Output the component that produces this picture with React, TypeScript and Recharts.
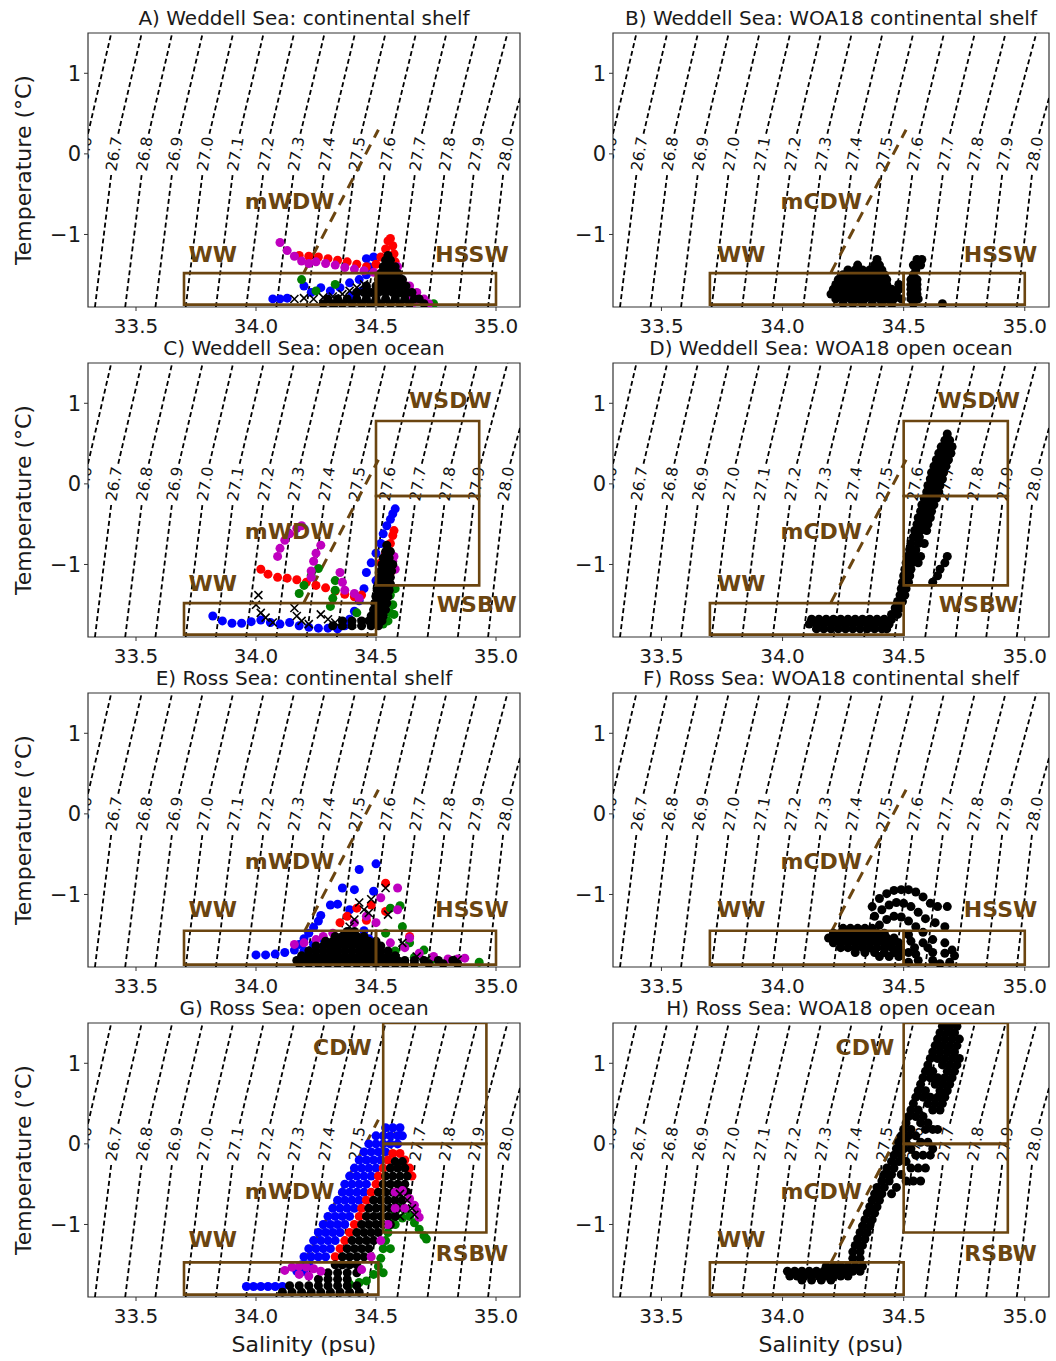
import React from "react";
import { ScatterChart, Scatter, XAxis, YAxis, ReferenceArea } from "recharts";

type Pt = { s: number; t: number; label?: string };
type Rows = [number, number[]][];

// axis ticks
const sTicks = [33.5, 34.0, 34.5, 35.0];
const tTicks = [-1, 0, 1];

// isopycnals: salinity where each contour crosses T = -1.9, -0.25, 0.25, 1.5 and the label (T = 0)
const sigmaLabels = ["26.6", "26.7", "26.8", "26.9", "27.0", "27.1", "27.2", "27.3", "27.4", "27.5", "27.6", "27.7", "27.8", "27.9", "28.0"];
const isoBottom = [33.203, 33.329, 33.455, 33.581, 33.707, 33.833, 33.959, 34.085, 34.211, 34.337, 34.463, 34.589, 34.715, 34.841, 34.967];
const isoBelowLabel = [33.271, 33.397, 33.524, 33.65, 33.777, 33.903, 34.03, 34.156, 34.283, 34.409, 34.536, 34.662, 34.785, 34.907, 35.03];
const isoAboveLabel = [33.3, 33.426, 33.553, 33.679, 33.806, 33.932, 34.059, 34.185, 34.312, 34.438, 34.565, 34.691, 34.814, 34.936, 35.059];
const isoTop = [33.397, 33.524, 33.651, 33.778, 33.905, 34.032, 34.159, 34.286, 34.413, 34.54, 34.667, 34.794, 34.921, 35.048, 35.175];
const isoLabelS = [33.284, 33.41, 33.537, 33.663, 33.79, 33.916, 34.043, 34.169, 34.296, 34.422, 34.549, 34.675, 34.798, 34.92, 35.043];
const isoTemps = [-1.9, -0.25, 0.25, 1.5];

// mixing line (brown dashed)
const mixLine: [number, number][] = [[34.2, -1.47], [34.51, 0.3]];

// water mass boxes: [s1, s2, t1, t2]
const boxesWeddellShelf = [[33.7, 34.5, -1.87, -1.48], [34.5, 35.0, -1.87, -1.48]];
const boxesWeddellOpen = [[33.7, 34.5, -1.87, -1.48], [34.5, 34.93, -0.15, 0.78], [34.5, 34.93, -1.26, -0.15]];
const boxesRossShelf = [[33.7, 34.5, -1.87, -1.45], [34.5, 35.0, -1.87, -1.45]];
const boxesRossOpenG = [[33.7, 34.51, -1.87, -1.47], [34.53, 34.96, 0, 1.5], [34.53, 34.96, -1.1, 0]];
const boxesRossOpenH = [[33.7, 34.5, -1.87, -1.47], [34.5, 34.93, 0, 1.5], [34.5, 34.93, -1.1, 0]];

// panel A: Weddell continental shelf
const aBlue: [number, number][] = [[34.07, -1.8], [34.1, -1.8], [34.13, -1.79], [34.2, -1.64], [34.23, -1.72], [34.27, -1.66], [34.31, -1.7], [34.35, -1.66], [34.39, -1.6], [34.43, -1.56], [34.46, -1.5], [34.46, -1.3], [34.49, -1.28], [34.47, -1.4], [34.4, -1.76], [34.44, -1.7]];
const aRed: [number, number][] = [[34.18, -1.26], [34.22, -1.27], [34.26, -1.28], [34.3, -1.3], [34.34, -1.32], [34.38, -1.34], [34.42, -1.37], [34.46, -1.4], [34.5, -1.37], [34.52, -1.28], [34.54, -1.18], [34.55, -1.08], [34.56, -1.05], [34.57, -1.14], [34.575, -1.24], [34.58, -1.34], [34.58, -1.44]];
const aGreen: [number, number][] = [[34.19, -1.56], [34.25, -1.7], [34.33, -1.62], [34.6, -1.72], [34.66, -1.78], [34.7, -1.83], [34.74, -1.86]];
const aMagenta: [number, number][] = [[34.1, -1.1], [34.13, -1.2], [34.16, -1.27], [34.19, -1.33], [34.22, -1.36], [34.25, -1.34], [34.29, -1.36], [34.33, -1.38], [34.37, -1.41], [34.41, -1.43], [34.45, -1.45], [34.49, -1.47], [34.58, -1.5], [34.61, -1.57], [34.64, -1.64], [34.67, -1.72], [34.7, -1.8], [34.72, -1.86], [34.6, -1.66], [34.63, -1.76], [34.66, -1.84], [34.59, -1.4]];
const aBlack: Rows = [
  [-1.26, [34.55]], [-1.32, [34.54, 34.56]], [-1.4, [34.53, 34.555, 34.58]], [-1.48, [34.52, 34.545, 34.57, 34.59]],
  [-1.56, [34.51, 34.535, 34.56, 34.585, 34.61]], [-1.64, [34.46, 34.5, 34.525, 34.55, 34.575, 34.6, 34.625]],
  [-1.72, [34.42, 34.45, 34.48, 34.51, 34.54, 34.57, 34.6, 34.63, 34.65]],
  [-1.8, [34.3, 34.34, 34.38, 34.42, 34.46, 34.5, 34.54, 34.58, 34.62, 34.66, 34.68]],
  [-1.86, [34.28, 34.32, 34.36, 34.4, 34.44, 34.48, 34.52, 34.56, 34.6, 34.64, 34.7]],
];
const aCross: [number, number][] = [[34.16, -1.8], [34.2, -1.79], [34.24, -1.8], [34.28, -1.78], [34.32, -1.77], [34.36, -1.74], [34.39, -1.7], [34.42, -1.66], [34.45, -1.62]];

// panel B: WOA18 Weddell shelf
const bBlack: Rows = [
  [-1.31, [34.39, 34.555, 34.575]], [-1.38, [34.31, 34.38, 34.4, 34.54, 34.57]],
  [-1.44, [34.27, 34.3, 34.33, 34.36, 34.39, 34.41, 34.55]],
  [-1.5, [34.25, 34.28, 34.31, 34.34, 34.37, 34.4, 34.42, 34.54]],
  [-1.56, [34.23, 34.26, 34.29, 34.32, 34.35, 34.38, 34.41, 34.43, 34.53, 34.555]],
  [-1.62, [34.22, 34.25, 34.28, 34.31, 34.34, 34.37, 34.4, 34.43, 34.48, 34.53, 34.555]],
  [-1.68, [34.21, 34.24, 34.27, 34.3, 34.33, 34.36, 34.39, 34.42, 34.45, 34.48, 34.53, 34.555]],
  [-1.74, [34.2, 34.23, 34.26, 34.29, 34.32, 34.35, 34.38, 34.41, 34.44, 34.47, 34.53, 34.555]],
  [-1.8, [34.22, 34.25, 34.28, 34.31, 34.34, 34.37, 34.4, 34.43, 34.46, 34.49, 34.53, 34.56]],
  [-1.86, [34.25, 34.29, 34.33, 34.37, 34.41, 34.45, 34.54, 34.66]],
];

// panel C: Weddell open ocean
const cBlue: [number, number][] = [[33.82, -1.64], [33.86, -1.7], [33.9, -1.73], [33.94, -1.73], [33.98, -1.71], [34.02, -1.69], [34.06, -1.72], [34.1, -1.74], [34.14, -1.72], [34.18, -1.76], [34.22, -1.78], [34.26, -1.79], [34.3, -1.79], [34.34, -1.8], [34.37, -1.76], [34.39, -1.68], [34.41, -1.58], [34.43, -1.45], [34.45, -1.3], [34.46, -1.1], [34.48, -0.98], [34.5, -0.86], [34.52, -0.74], [34.53, -0.62], [34.545, -0.52], [34.56, -0.44], [34.57, -0.37], [34.58, -0.31], [34.5, -1.2], [34.51, -1.4], [34.52, -1.55]];
const cRed: [number, number][] = [[34.02, -1.06], [34.05, -1.12], [34.09, -1.16], [34.13, -1.17], [34.17, -1.19], [34.21, -1.22], [34.25, -1.26], [34.29, -1.29], [34.33, -1.33], [34.37, -1.37], [34.41, -1.4], [34.44, -1.38], [34.52, -0.98], [34.54, -0.86], [34.56, -0.74], [34.57, -0.64], [34.575, -0.58], [34.56, -1.1], [34.55, -1.25]];
const cGreen: [number, number][] = [[34.18, -1.36], [34.2, -1.26], [34.23, -1.14], [34.26, -1.05], [34.33, -1.2], [34.33, -1.32], [34.32, -1.42], [34.31, -1.52], [34.42, -1.6], [34.53, -1.48], [34.56, -1.38], [34.57, -1.5], [34.575, -1.62], [34.55, -1.7], [34.53, -1.74], [34.58, -1.3], [34.56, -1.6]];
const cMagenta: [number, number][] = [[34.09, -0.9], [34.1, -0.8], [34.12, -0.7], [34.14, -0.62], [34.17, -0.55], [34.19, -0.52], [34.27, -0.76], [34.25, -0.86], [34.24, -0.96], [34.23, -1.08], [34.23, -1.16], [34.35, -1.1], [34.36, -1.22], [34.37, -1.32], [34.41, -1.36], [34.43, -1.42], [34.57, -0.96], [34.58, -1.06], [34.575, -0.9]];
const cBlack: Rows = [
  [-0.76, [34.545]], [-0.84, [34.54, 34.56]], [-0.92, [34.53, 34.555]], [-1.0, [34.525, 34.55, 34.57]],
  [-1.08, [34.52, 34.545, 34.565]], [-1.16, [34.515, 34.54, 34.56]], [-1.24, [34.51, 34.535, 34.56]],
  [-1.32, [34.505, 34.53, 34.555]], [-1.4, [34.5, 34.525, 34.55]], [-1.48, [34.495, 34.52, 34.545]],
  [-1.56, [34.49, 34.515, 34.54]], [-1.64, [34.48, 34.505, 34.53]],
  [-1.7, [34.36, 34.4, 34.44, 34.47, 34.5, 34.525]], [-1.76, [34.32, 34.36, 34.4, 34.44, 34.48, 34.51]],
];
const cCross: [number, number][] = [[34.01, -1.38], [34.0, -1.5], [34.02, -1.6], [34.04, -1.66], [34.07, -1.72], [34.16, -1.54], [34.17, -1.64], [34.19, -1.7], [34.22, -1.74], [34.27, -1.62], [34.3, -1.68], [34.33, -1.72], [34.36, -1.74], [34.4, -1.74], [34.44, -1.72]];

// panel D: WOA18 Weddell open ocean
const dBlack: Rows = [
  [0.62, [34.68]], [0.54, [34.67, 34.69]], [0.46, [34.655, 34.68, 34.7]], [0.38, [34.645, 34.67, 34.695]],
  [0.3, [34.635, 34.66, 34.685]], [0.22, [34.625, 34.65, 34.675]], [0.14, [34.615, 34.64, 34.665]],
  [0.06, [34.61, 34.635, 34.66]], [-0.02, [34.6, 34.625, 34.65]], [-0.1, [34.595, 34.62, 34.645]],
  [-0.18, [34.585, 34.61, 34.635]], [-0.26, [34.575, 34.6, 34.625]], [-0.34, [34.57, 34.595, 34.615]],
  [-0.42, [34.56, 34.585, 34.61]], [-0.5, [34.555, 34.58, 34.6]], [-0.58, [34.545, 34.57, 34.595]],
  [-0.66, [34.54, 34.565]], [-0.74, [34.53, 34.56, 34.585]], [-0.82, [34.525, 34.55]],
  [-0.9, [34.515, 34.54, 34.57, 34.68]], [-0.98, [34.51, 34.535, 34.56, 34.67]], [-1.06, [34.505, 34.53, 34.65]],
  [-1.14, [34.5, 34.525, 34.64]], [-1.22, [34.495, 34.52, 34.62]], [-1.3, [34.49, 34.51]],
  [-1.38, [34.485, 34.505]], [-1.46, [34.475, 34.495]], [-1.54, [34.465, 34.485]], [-1.62, [34.45, 34.475]],
  [-1.68, [34.12, 34.15, 34.18, 34.21, 34.24, 34.27, 34.3, 34.33, 34.36, 34.39, 34.42, 34.45]],
  [-1.74, [34.11, 34.14, 34.17, 34.2, 34.23, 34.26, 34.29, 34.32, 34.35, 34.38, 34.41, 34.44]],
  [-1.8, [34.14, 34.17, 34.2, 34.23, 34.26, 34.29, 34.32, 34.35, 34.38, 34.41, 34.43]],
];

// panel E: Ross continental shelf
const eBlue: [number, number][] = [[34.0, -1.75], [34.04, -1.75], [34.08, -1.74], [34.12, -1.72], [34.16, -1.69], [34.18, -1.62], [34.2, -1.55], [34.22, -1.48], [34.24, -1.41], [34.26, -1.33], [34.27, -1.26], [34.31, -1.13], [34.34, -1.12], [34.36, -0.92], [34.41, -0.94], [34.43, -0.69], [34.5, -0.62], [34.39, -1.19], [34.49, -0.96], [34.2, -1.7], [34.24, -1.62], [34.28, -1.55], [34.22, -1.76], [34.45, -1.45], [34.47, -1.55]];
const eRed: [number, number][] = [[34.38, -1.27], [34.42, -1.17], [34.54, -0.86], [34.54, -1.21], [34.48, -1.13], [34.64, -1.52], [34.35, -1.35], [34.46, -1.32]];
const eGreen: [number, number][] = [[34.56, -1.17], [34.6, -1.14], [34.61, -1.4], [34.54, -1.48], [34.64, -1.6], [34.7, -1.69], [34.73, -1.81], [34.93, -1.84], [34.58, -1.7], [34.66, -1.78]];
const eMagenta: [number, number][] = [[34.16, -1.62], [34.2, -1.6], [34.25, -1.56], [34.32, -1.48], [34.41, -1.35], [34.52, -1.04], [34.59, -0.92], [34.59, -1.19], [34.5, -1.35], [34.64, -1.54], [34.68, -1.73], [34.74, -1.77], [34.8, -1.8], [34.84, -1.8], [34.87, -1.79], [34.46, -1.27], [34.44, -1.62], [34.56, -1.6], [34.62, -1.66], [34.28, -1.52]];
const eBlack: Rows = [
  [-1.46, [34.38, 34.41]], [-1.52, [34.33, 34.36, 34.39, 34.42, 34.45]],
  [-1.58, [34.29, 34.32, 34.35, 34.38, 34.41, 34.44, 34.47, 34.5]],
  [-1.64, [34.25, 34.28, 34.31, 34.34, 34.37, 34.4, 34.43, 34.46, 34.49, 34.52]],
  [-1.7, [34.22, 34.25, 34.28, 34.31, 34.34, 34.37, 34.4, 34.43, 34.46, 34.49, 34.52, 34.55]],
  [-1.76, [34.19, 34.22, 34.25, 34.28, 34.31, 34.34, 34.37, 34.4, 34.43, 34.46, 34.49, 34.52, 34.55, 34.58]],
  [-1.82, [34.17, 34.2, 34.23, 34.26, 34.29, 34.32, 34.35, 34.38, 34.41, 34.44, 34.47, 34.5, 34.53, 34.56, 34.59, 34.62, 34.66, 34.7, 34.76, 34.82]],
  [-1.86, [34.18, 34.22, 34.26, 34.3, 34.34, 34.38, 34.42, 34.46, 34.5, 34.54, 34.58, 34.62, 34.66, 34.72, 34.78, 34.84]],
];
const eCross: [number, number][] = [[34.54, -0.92], [34.48, -1.06], [34.45, -1.19], [34.41, -1.31], [34.47, -1.23], [34.55, -1.25], [34.61, -1.6], [34.67, -1.77], [34.71, -1.81], [34.84, -1.81], [34.43, -1.1], [34.39, -1.4]];

// panel F: WOA18 Ross shelf
const fBlob: Rows = [
  [-1.42, [34.25, 34.28, 34.31, 34.34, 34.37]], [-1.48, [34.21, 34.24, 34.27, 34.3, 34.33, 34.36, 34.39, 34.42]],
  [-1.54, [34.19, 34.22, 34.25, 34.28, 34.31, 34.34, 34.37, 34.4, 34.43, 34.46]],
  [-1.6, [34.21, 34.24, 34.27, 34.3, 34.33, 34.36, 34.39, 34.42, 34.45, 34.48]],
  [-1.66, [34.24, 34.27, 34.3, 34.33, 34.36, 34.39, 34.42, 34.45, 34.48]],
  [-1.72, [34.3, 34.34, 34.38, 34.42, 34.46, 34.49]], [-1.77, [34.4, 34.44, 34.48]],
];
const fArcs: [number, number][] = [
  [34.37, -1.15], [34.4, -1.05], [34.43, -0.99], [34.46, -0.95], [34.49, -0.94], [34.52, -0.94], [34.55, -0.97], [34.58, -1.03], [34.61, -1.11], [34.64, -1.15], [34.68, -1.15],
  [34.38, -1.27], [34.41, -1.19], [34.44, -1.13], [34.47, -1.1], [34.5, -1.11], [34.53, -1.15], [34.56, -1.22], [34.59, -1.3], [34.63, -1.35], [34.67, -1.4],
  [34.4, -1.38], [34.43, -1.31], [34.46, -1.27], [34.49, -1.28], [34.52, -1.33], [34.55, -1.4], [34.58, -1.47], [34.62, -1.56], [34.67, -1.6],
  [34.52, -1.5], [34.53, -1.58], [34.545, -1.66], [34.55, -1.74], [34.56, -1.82], [34.6, -1.66], [34.62, -1.72], [34.62, -1.82], [34.67, -1.73], [34.7, -1.69], [34.71, -1.76], [34.69, -1.84], [34.52, -1.72], [34.52, -1.84], [34.58, -1.6], [34.65, -1.86],
];

// panel G: Ross open ocean
const gBlue: Rows = [
  [-1.77, [33.96, 33.99, 34.02, 34.05, 34.08, 34.11]], [-1.58, [34.17, 34.2]], [-1.5, [34.19, 34.22]],
  [-1.4, [34.2, 34.23, 34.26, 34.29]], [-1.3, [34.22, 34.25, 34.28, 34.31]], [-1.2, [34.24, 34.27, 34.3, 34.33]],
  [-1.1, [34.26, 34.29, 34.32, 34.35]], [-1.0, [34.28, 34.31, 34.34, 34.37]], [-0.9, [34.3, 34.33, 34.36, 34.39]],
  [-0.8, [34.32, 34.35, 34.38, 34.41]], [-0.7, [34.34, 34.37, 34.4, 34.43]], [-0.6, [34.36, 34.39, 34.42, 34.45]],
  [-0.5, [34.37, 34.4, 34.43, 34.46]], [-0.4, [34.39, 34.42, 34.45, 34.48]], [-0.3, [34.41, 34.44, 34.47, 34.5]],
  [-0.2, [34.43, 34.46, 34.49, 34.52]], [-0.1, [34.45, 34.48, 34.51, 34.54]], [0.0, [34.47, 34.5, 34.53, 34.56, 34.59]],
  [0.1, [34.5, 34.53, 34.56, 34.59, 34.61]], [0.2, [34.54, 34.57, 34.6]],
];
const gRed: [number, number][] = [[34.33, -1.4], [34.35, -1.3], [34.37, -1.2], [34.39, -1.1], [34.41, -1.0], [34.43, -0.9], [34.44, -0.8], [34.46, -0.7], [34.48, -0.6], [34.5, -0.5], [34.51, -0.4], [34.53, -0.3], [34.55, -0.2], [34.57, -0.12], [34.6, -0.12], [34.62, -0.2], [34.64, -0.3], [34.65, -0.4]];
const gGreen: [number, number][] = [[34.39, -1.74], [34.43, -1.72], [34.46, -1.7], [34.49, -1.62], [34.51, -1.52], [34.52, -1.42], [34.53, -1.3], [34.54, -1.2], [34.55, -1.1], [34.56, -1.0], [34.57, -0.92], [34.58, -0.84], [34.6, -0.78], [34.62, -0.82], [34.64, -0.9], [34.66, -0.98], [34.68, -1.06], [34.7, -1.14], [34.71, -1.18], [34.58, -1.0], [34.61, -0.92], [34.56, -1.3], [34.53, -1.6]];
const gBlack: Rows = [
  [-1.84, [34.11, 34.15, 34.19, 34.23, 34.27, 34.31, 34.35, 34.39, 34.43]],
  [-1.76, [34.14, 34.18, 34.22, 34.26, 34.3, 34.34, 34.38, 34.42]],
  [-1.68, [34.26, 34.3, 34.34, 34.38]], [-1.6, [34.3, 34.34, 34.38, 34.42]], [-1.5, [34.33, 34.36, 34.39, 34.42]],
  [-1.4, [34.36, 34.39, 34.42, 34.45]], [-1.3, [34.38, 34.41, 34.44, 34.47]], [-1.2, [34.4, 34.43, 34.46, 34.49]],
  [-1.1, [34.42, 34.45, 34.48, 34.51]], [-1.0, [34.44, 34.47, 34.5, 34.53, 34.56]], [-0.9, [34.46, 34.49, 34.52, 34.55, 34.58]],
  [-0.8, [34.47, 34.5, 34.53, 34.56, 34.59]], [-0.7, [34.49, 34.52, 34.55, 34.58, 34.61]], [-0.6, [34.51, 34.54, 34.57, 34.6, 34.63]],
  [-0.5, [34.53, 34.56, 34.59, 34.62]], [-0.4, [34.54, 34.57, 34.6, 34.63]], [-0.3, [34.56, 34.59, 34.62]], [-0.22, [34.58, 34.61]],
];
const gMagenta: [number, number][] = [[34.12, -1.57], [34.15, -1.53], [34.18, -1.52], [34.21, -1.53], [34.24, -1.55], [34.27, -1.58], [34.18, -1.62], [34.22, -1.64], [34.58, -0.6], [34.61, -0.58], [34.64, -0.68], [34.66, -0.76], [34.67, -0.84], [34.68, -0.91], [34.55, -1.0], [34.52, -1.2], [34.48, -1.4], [34.44, -1.56], [34.58, -0.8], [34.62, -0.8]];
const gCross: [number, number][] = [[34.6, -0.62], [34.63, -0.7], [34.65, -0.8], [34.6, -0.9], [34.56, -0.7], [34.52, -0.95], [34.48, -1.2], [34.66, -0.88]];

// panel H: WOA18 Ross open ocean
const hBlack: Rows = [
  [1.46, [34.66, 34.69, 34.72]], [1.38, [34.65, 34.68, 34.71]], [1.3, [34.64, 34.67, 34.7, 34.73]],
  [1.22, [34.63, 34.66, 34.69, 34.72]], [1.14, [34.62, 34.65, 34.68, 34.71]], [1.06, [34.61, 34.64, 34.67, 34.7, 34.73]],
  [0.98, [34.6, 34.66, 34.69, 34.72]], [0.9, [34.59, 34.62, 34.68, 34.71]], [0.82, [34.58, 34.61, 34.64, 34.67, 34.7]],
  [0.74, [34.57, 34.63, 34.66, 34.69]], [0.66, [34.56, 34.59, 34.65, 34.68]], [0.58, [34.55, 34.58, 34.61, 34.64, 34.67]],
  [0.5, [34.54, 34.6, 34.63, 34.66]], [0.42, [34.53, 34.56, 34.62, 34.65]], [0.34, [34.52, 34.55, 34.58]],
  [0.26, [34.51, 34.57, 34.6]], [0.18, [34.5, 34.53, 34.59, 34.62, 34.64]], [0.1, [34.49, 34.52, 34.55]],
  [0.02, [34.48, 34.51, 34.57, 34.6]], [-0.06, [34.47, 34.5, 34.53, 34.62]], [-0.14, [34.46, 34.49, 34.55, 34.58, 34.61]],
  [-0.22, [34.45, 34.48, 34.51]], [-0.3, [34.43, 34.46, 34.53, 34.56, 34.59]], [-0.38, [34.42, 34.45, 34.49]],
  [-0.46, [34.41, 34.44, 34.51, 34.54, 34.57]], [-0.54, [34.39, 34.42, 34.47]], [-0.62, [34.38, 34.41, 34.45]],
  [-0.7, [34.37, 34.4]], [-0.78, [34.36, 34.39]], [-0.86, [34.35, 34.38]], [-0.94, [34.34, 34.37]],
  [-1.02, [34.33, 34.36]], [-1.1, [34.32, 34.35]], [-1.18, [34.31, 34.34]], [-1.26, [34.3, 34.33]],
  [-1.34, [34.29, 34.32]], [-1.42, [34.29, 34.32]],
  [-1.52, [34.18, 34.21, 34.24, 34.27, 34.3, 34.33]],
  [-1.58, [34.02, 34.05, 34.08, 34.11, 34.14, 34.17, 34.2, 34.23, 34.26, 34.29, 34.32]],
  [-1.64, [34.03, 34.06, 34.09, 34.12, 34.15, 34.18, 34.21, 34.24, 34.27]],
  [-1.69, [34.08, 34.12, 34.16, 34.2]],
];

const BLUE = "#0000ff";
const RED = "#ff0000";
const GREEN = "#008000";
const MAGENTA = "#bf00bf";
const BLACK = "#000000";
const BROWN = "#6b4510";

const pts = (arr: [number, number][]): Pt[] => arr.map(([s, t]) => ({ s, t }));
const fromRows = (rows: Rows): Pt[] => rows.flatMap(([t, ss]) => ss.map((s) => ({ s, t })));
const boxPts = (b: number[]): Pt[] => {
  const [s1, s2, t1, t2] = b;
  return [{ s: s1, t: t1 }, { s: s2, t: t1 }, { s: s2, t: t2 }, { s: s1, t: t2 }, { s: s1, t: t1 }, { s: s2, t: t1 }];
};

const isoLower = sigmaLabels.map((_, i) => [{ s: isoBottom[i], t: isoTemps[0] }, { s: isoBelowLabel[i], t: isoTemps[1] }]);
const isoUpper = sigmaLabels.map((_, i) => [{ s: isoAboveLabel[i], t: isoTemps[2] }, { s: isoTop[i], t: isoTemps[3] }]);
const isoLabelPts: Pt[] = sigmaLabels.map((label, i) => ({ s: isoLabelS[i], t: 0, label }));

type Series = { data: Pt[]; color: string; cross?: boolean };
type Tag = { s: number; t: number; label: string };
type PanelSpec = { title: string; col: number; row: number; series: Series[]; boxes: number[][]; tags: Tag[] };

const panels: PanelSpec[] = [
  {
    title: "A) Weddell Sea: continental shelf", col: 0, row: 0, boxes: boxesWeddellShelf,
    series: [
      { data: pts(aBlue), color: BLUE }, { data: pts(aRed), color: RED }, { data: pts(aGreen), color: GREEN },
      { data: pts(aMagenta), color: MAGENTA }, { data: fromRows(aBlack), color: BLACK }, { data: pts(aCross), color: BLACK, cross: true },
    ],
    tags: [{ s: 33.82, t: -1.25, label: "WW" }, { s: 34.14, t: -0.59, label: "mWDW" }, { s: 34.9, t: -1.25, label: "HSSW" }],
  },
  {
    title: "B) Weddell Sea: WOA18 continental shelf", col: 1, row: 0, boxes: boxesWeddellShelf,
    series: [{ data: fromRows(bBlack), color: BLACK }],
    tags: [{ s: 33.83, t: -1.25, label: "WW" }, { s: 34.16, t: -0.59, label: "mCDW" }, { s: 34.9, t: -1.25, label: "HSSW" }],
  },
  {
    title: "C) Weddell Sea: open ocean", col: 0, row: 1, boxes: boxesWeddellOpen,
    series: [
      { data: pts(cBlue), color: BLUE }, { data: pts(cRed), color: RED }, { data: pts(cGreen), color: GREEN },
      { data: pts(cMagenta), color: MAGENTA }, { data: fromRows(cBlack), color: BLACK }, { data: pts(cCross), color: BLACK, cross: true },
    ],
    tags: [{ s: 33.82, t: -1.23, label: "WW" }, { s: 34.14, t: -0.59, label: "mWDW" }, { s: 34.81, t: 1.03, label: "WSDW" }, { s: 34.92, t: -1.5, label: "WSBW" }],
  },
  {
    title: "D) Weddell Sea: WOA18 open ocean", col: 1, row: 1, boxes: boxesWeddellOpen,
    series: [{ data: fromRows(dBlack), color: BLACK }],
    tags: [{ s: 33.83, t: -1.23, label: "WW" }, { s: 34.16, t: -0.59, label: "mCDW" }, { s: 34.81, t: 1.03, label: "WSDW" }, { s: 34.81, t: -1.5, label: "WSBW" }],
  },
  {
    title: "E) Ross Sea: continental shelf", col: 0, row: 2, boxes: boxesRossShelf,
    series: [
      { data: pts(eBlue), color: BLUE }, { data: pts(eRed), color: RED }, { data: pts(eGreen), color: GREEN },
      { data: pts(eMagenta), color: MAGENTA }, { data: fromRows(eBlack), color: BLACK }, { data: pts(eCross), color: BLACK, cross: true },
    ],
    tags: [{ s: 33.82, t: -1.19, label: "WW" }, { s: 34.14, t: -0.59, label: "mWDW" }, { s: 34.9, t: -1.19, label: "HSSW" }],
  },
  {
    title: "F) Ross Sea: WOA18 continental shelf", col: 1, row: 2, boxes: boxesRossShelf,
    series: [{ data: fromRows(fBlob), color: BLACK }, { data: pts(fArcs), color: BLACK }],
    tags: [{ s: 33.83, t: -1.19, label: "WW" }, { s: 34.16, t: -0.59, label: "mCDW" }, { s: 34.9, t: -1.19, label: "HSSW" }],
  },
  {
    title: "G) Ross Sea: open ocean", col: 0, row: 3, boxes: boxesRossOpenG,
    series: [
      { data: fromRows(gBlue), color: BLUE }, { data: pts(gRed), color: RED }, { data: pts(gGreen), color: GREEN },
      { data: fromRows(gBlack), color: BLACK }, { data: pts(gMagenta), color: MAGENTA }, { data: pts(gCross), color: BLACK, cross: true },
    ],
    tags: [{ s: 34.36, t: 1.19, label: "CDW" }, { s: 34.14, t: -0.59, label: "mWDW" }, { s: 33.82, t: -1.19, label: "WW" }, { s: 34.9, t: -1.36, label: "RSBW" }],
  },
  {
    title: "H) Ross Sea: WOA18 open ocean", col: 1, row: 3, boxes: boxesRossOpenH,
    series: [{ data: fromRows(hBlack), color: BLACK }],
    tags: [{ s: 34.34, t: 1.19, label: "CDW" }, { s: 34.16, t: -0.59, label: "mCDW" }, { s: 33.83, t: -1.19, label: "WW" }, { s: 34.9, t: -1.36, label: "RSBW" }],
  },
];

const COL_LEFT = [0, 525];
const PLOT_W = [432, 436];
const ROW_TOP = [33, 363, 693, 1023];
const Y_W = 88;
const PLOT_H = 274;

const noShape = () => <g />;
const dotShape = (color: string) => (p: any) => <circle cx={p.cx} cy={p.cy} r={4.5} fill={color} />;
const crossShape = (p: any) => (
  <path d={`M${p.cx - 4},${p.cy - 4}L${p.cx + 4},${p.cy + 4}M${p.cx - 4},${p.cy + 4}L${p.cx + 4},${p.cy - 4}`} stroke="#000" strokeWidth={1.6} fill="none" />
);
const isoLabelShape = (p: any) => (
  <text x={p.cx} y={p.cy} transform={`rotate(-80 ${p.cx} ${p.cy})`} textAnchor="middle" dominantBaseline="central" fontSize={15.5} fill="#111">
    {p.payload.label}
  </text>
);
const tagShape = (p: any) => (
  <text x={p.cx} y={p.cy} textAnchor="middle" dominantBaseline="central" fontSize={22} fontWeight="bold" fill={BROWN}>
    {p.payload.label}
  </text>
);

function Panel({ p }: { p: PanelSpec }) {
  const left = COL_LEFT[p.col];
  const plotW = PLOT_W[p.col];
  const top = ROW_TOP[p.row];
  const plotLeft = left + Y_W;
  return (
    <>
      <div style={{ position: "absolute", left: plotLeft, top: top - 23, width: plotW, textAlign: "center", fontSize: 20, lineHeight: "16px", color: "#1a1a1a" }}>
        {p.title}
      </div>
      {p.col === 0 && (
        <div style={{ position: "absolute", left: 23, top: top + PLOT_H / 2, transform: "translate(-50%, -50%) rotate(-90deg)", whiteSpace: "nowrap", fontSize: 22, color: "#1a1a1a" }}>
          Temperature (°C)
        </div>
      )}
      {p.row === 3 && (
        <div style={{ position: "absolute", left: plotLeft, top: top + PLOT_H + 36, width: plotW, textAlign: "center", fontSize: 22, lineHeight: "24px", color: "#1a1a1a" }}>
          Salinity (psu)
        </div>
      )}
      <div style={{ position: "absolute", left, top: top - 4 }}>
        <ScatterChart width={Y_W + plotW + 2} height={4 + PLOT_H + 40} margin={{ top: 4, right: 2, bottom: 0, left: 0 }}>
          <XAxis type="number" dataKey="s" domain={[33.3, 35.1]} allowDataOverflow ticks={sTicks} interval={0}
            tickFormatter={(v: number) => v.toFixed(1)} height={40} tickSize={4} tickMargin={8} axisLine={false}
            tickLine={{ stroke: "#333" }} tick={{ fill: "#1a1a1a", fontSize: 20 }} />
          <YAxis type="number" dataKey="t" domain={[-1.9, 1.5]} allowDataOverflow ticks={tTicks} interval={0}
            tickFormatter={(v: number) => (v < 0 ? `\u2212${Math.abs(v)}` : `${v}`)} width={Y_W} tickSize={4} tickMargin={3}
            axisLine={false} tickLine={{ stroke: "#333" }} tick={{ fill: "#1a1a1a", fontSize: 21 }} />
          {isoLower.map((d, i) => (
            <Scatter key={`lo${i}`} data={d} shape={noShape} line={{ stroke: "#000", strokeWidth: 1.8, strokeDasharray: "5 3" }} isAnimationActive={false} />
          ))}
          {isoUpper.map((d, i) => (
            <Scatter key={`up${i}`} data={d} shape={noShape} line={{ stroke: "#000", strokeWidth: 1.8, strokeDasharray: "5 3" }} isAnimationActive={false} />
          ))}
          <Scatter data={isoLabelPts} shape={isoLabelShape} isAnimationActive={false} />
          <Scatter data={pts(mixLine)} shape={noShape} line={{ stroke: BROWN, strokeWidth: 3, strokeDasharray: "11 8" }} isAnimationActive={false} />
          {p.series.map((sr, i) => (
            <Scatter key={`sr${i}`} data={sr.data} shape={sr.cross ? crossShape : dotShape(sr.color)} isAnimationActive={false} />
          ))}
          {p.boxes.map((b, i) => (
            <Scatter key={`bx${i}`} data={boxPts(b)} shape={noShape} line={{ stroke: BROWN, strokeWidth: 2.6, strokeLinejoin: "miter" }} isAnimationActive={false} />
          ))}
          <Scatter data={p.tags} shape={tagShape} isAnimationActive={false} />
          <ReferenceArea x1={33.3} x2={35.1} y1={-1.9} y2={1.5} fill="none" fillOpacity={0} stroke="#333" strokeWidth={1.2} ifOverflow="visible" />
        </ScatterChart>
      </div>
    </>
  );
}

export default function App() {
  return (
    <div style={{ position: "absolute", left: 0, top: 0, width: 1056, height: 1361, background: "#fff", fontFamily: "'DejaVu Sans', sans-serif" }}>
      {panels.map((p) => (
        <Panel key={p.title} p={p} />
      ))}
    </div>
  );
}
